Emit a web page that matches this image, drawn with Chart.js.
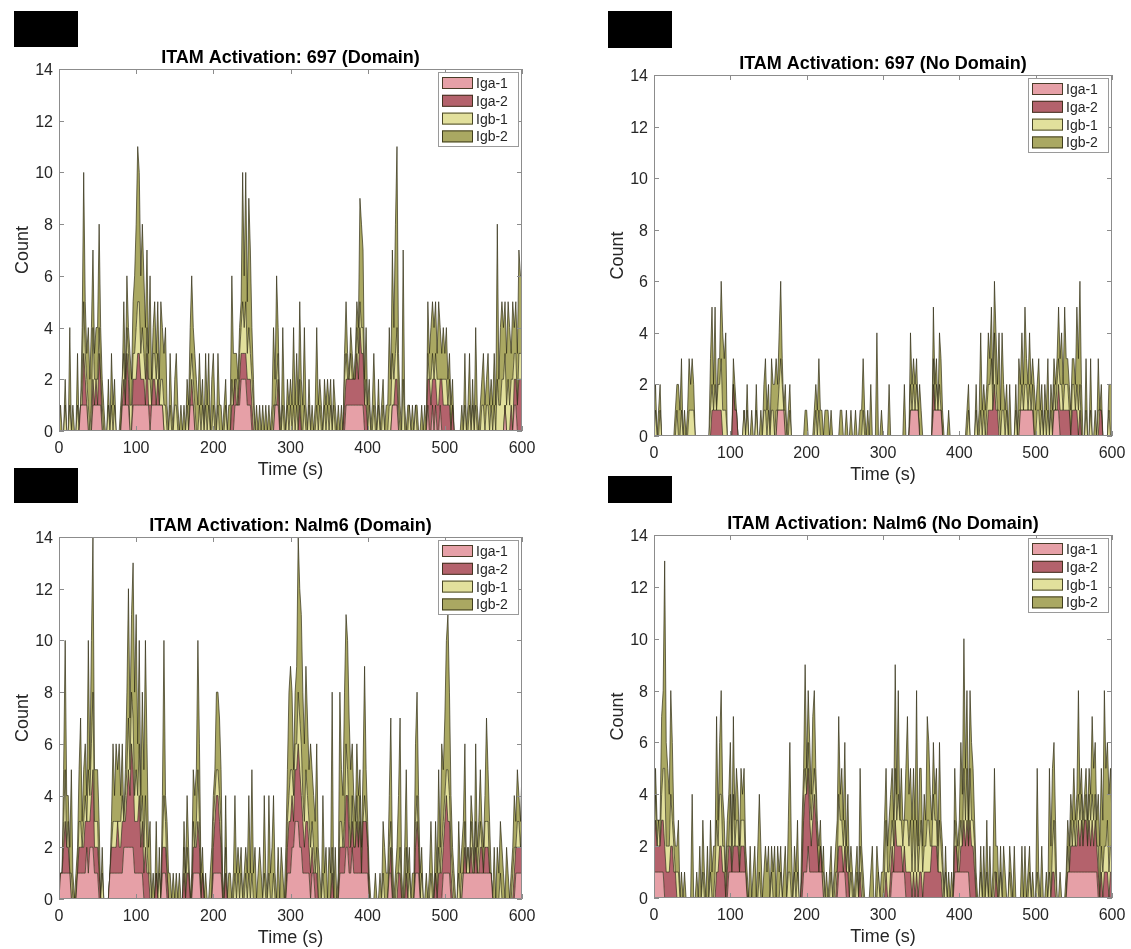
<!DOCTYPE html>
<html>
<head>
<meta charset="utf-8">
<script src="https://cdn.jsdelivr.net/npm/chart.js@4.4.1/dist/chart.umd.min.js"></script>
<style>
  body { margin: 0; background: #fff; width: 1131px; height: 949px; position: relative; overflow: hidden; }
  canvas { position: absolute; }
  .tag { position: absolute; background: #000; }
</style>
</head>
<body>
<div class="tag" style="left:14px;top:11px;width:64px;height:36px"></div>
<div class="tag" style="left:608px;top:11px;width:64px;height:37px"></div>
<div class="tag" style="left:14px;top:468px;width:64px;height:35px"></div>
<div class="tag" style="left:608px;top:476px;width:64px;height:27px"></div>

<canvas id="p1" width="570" height="450" style="left:0;top:30px"></canvas>
<canvas id="p2" width="561" height="460" style="left:570px;top:30px"></canvas>
<canvas id="p3" width="570" height="459" style="left:0;top:490px"></canvas>
<canvas id="p4" width="561" height="459" style="left:570px;top:490px"></canvas>

<script>
// counts are sampled every STEP seconds, 0..600 s
const STEP = 2;
const seriesNames = ['Iga-1', 'Iga-2', 'Igb-1', 'Igb-2'];
const yTicks = [0, 2, 4, 6, 8, 10, 12, 14];
const xTicks = [0, 100, 200, 300, 400, 500, 600];

// 697, with domain
const dom697Iga1 = [
  0,0,0,0,0, 0,0,0,0,0, 0,0,0,0,1, 1,1,1,1,0, 0,0,1,1,1,
  1,1,1,0,0, 0,0,0,0,0, 0,0,0,0,0, 0,1,1,1,1, 1,0,0,1,1,
  1,1,1,1,1, 1,1,1,1,0, 1,1,1,1,1, 1,1,1,0,0, 0,0,0,0,0,
  0,0,0,0,0, 0,0,0,0,0, 1,1,1,0,0, 0,0,0,0,0, 0,0,0,0,0,
  0,0,0,0,0, 0,0,0,0,0, 0,0,0,0,1, 1,1,1,2,2, 2,2,1,1,1,
  0,0,0,0,0, 0,0,0,0,0, 0,0,0,0,0, 1,1,1,0,0, 0,0,0,0,0,
  0,0,0,0,0, 0,0,0,0,0, 0,0,0,0,0, 0,0,0,0,0, 0,0,0,0,0,
  0,0,0,0,0, 0,0,0,0,0, 0,1,1,1,1, 1,1,1,1,1, 1,1,1,0,0,
  0,0,0,0,0, 0,0,0,0,0, 0,0,0,0,0, 0,1,1,1,1, 0,0,0,0,0,
  0,0,0,0,0, 0,0,0,0,0, 0,0,0,0,1, 0,0,1,0,1, 0,0,1,0,0,
  0,0,0,0,0, 0,0,0,0,0, 0,0,0,0,0, 0,0,0,0,0, 0,0,0,0,0,
  0,0,0,0,0, 0,0,0,0,0, 0,0,0,0,1, 0,0,0,0,0, 1,1,0,0,0,
  0
];
const dom697Iga2 = [
  0,0,0,0,0, 0,0,0,0,0, 0,0,0,0,0, 0,2,1,0,0, 0,0,1,0,1,
  0,2,1,0,0, 0,0,0,0,0, 0,0,0,0,0, 0,0,1,0,2, 1,0,0,1,1,
  1,2,2,1,1, 1,0,2,0,1, 0,1,1,0,1, 0,0,0,0,0, 0,0,0,0,0,
  0,0,0,0,0, 0,0,0,0,0, 0,1,0,0,0, 0,0,0,0,0, 0,0,0,0,0,
  0,0,0,0,0, 0,0,0,0,0, 0,0,1,1,1, 0,0,1,1,1, 1,1,1,1,1,
  1,0,0,0,0, 0,0,0,0,0, 0,0,0,0,0, 0,0,1,0,0, 0,0,0,0,0,
  0,0,0,0,0, 0,1,0,0,0, 0,0,0,0,0, 0,0,0,0,0, 0,0,0,0,0,
  0,0,0,0,0, 0,0,0,0,0, 1,1,1,1,1, 1,1,1,2,1, 3,2,2,1,1,
  0,0,0,0,0, 0,0,0,0,0, 0,0,0,0,0, 0,0,0,1,1, 0,0,0,0,0,
  0,0,0,0,0, 0,0,0,0,0, 0,0,0,0,1, 2,1,1,2,1, 1,1,1,2,1,
  1,1,1,1,0, 1,0,0,0,0, 0,0,0,0,0, 0,0,0,0,0, 0,0,0,0,0,
  0,0,0,0,0, 0,0,0,0,0, 0,0,0,0,0, 0,0,0,1,0, 1,1,1,2,2,
  2
];
const dom697Igb1 = [
  0,0,0,0,1, 0,0,1,0,0, 0,0,1,0,0, 1,2,1,1,1, 0,1,2,1,0,
  1,1,0,1,0, 0,0,1,0,1, 0,1,0,0,0, 0,1,1,0,1, 1,1,1,1,1,
  2,2,2,1,2, 1,1,1,1,1, 0,1,1,1,1, 0,1,1,1,1, 0,0,1,0,0,
  1,1,0,0,0, 0,0,0,1,0, 1,1,1,1,0, 0,1,0,1,0, 1,0,1,0,0,
  1,0,0,1,0, 0,0,0,1,0, 0,0,1,0,0, 1,0,1,1,2, 1,2,1,2,1,
  1,1,0,0,0, 0,0,0,0,0, 0,0,0,0,1, 0,1,1,0,0, 1,0,0,1,0,
  1,0,1,0,1, 0,1,0,0,1, 0,0,1,0,0, 0,0,1,0,1, 0,0,1,0,1,
  0,1,0,1,0, 0,0,0,0,0, 1,1,0,0,1, 0,0,0,1,1, 1,1,1,0,1,
  0,1,0,0,1, 0,0,1,0,0, 1,0,0,0,1, 1,2,1,1,2, 1,0,0,2,0,
  0,0,1,0,0, 0,1,0,0,0, 0,0,0,0,1, 0,1,1,0,1, 1,1,0,0,1,
  1,1,0,1,0, 0,0,0,0,0, 0,0,0,1,0, 0,1,0,1,0, 1,0,0,0,1,
  1,0,1,1,0, 1,0,1,0,2, 1,1,2,2,2, 1,2,1,1,2, 1,1,0,1,1,
  1
];
const dom697Igb2 = [
  0,1,0,0,1, 0,0,3,0,1, 0,0,2,0,0, 2,5,2,1,3, 2,3,3,1,2,
  2,4,2,1,1, 0,0,1,0,2, 1,1,0,0,0, 1,0,2,1,2, 1,2,1,2,3,
  4,6,5,3,4, 3,2,3,1,4, 1,1,2,1,2, 1,3,2,2,3, 1,0,2,1,0,
  1,2,1,0,1, 0,1,0,1,1, 2,3,2,2,2, 1,2,1,1,0, 2,1,2,0,2,
  2,1,0,2,1, 1,0,1,1,0, 1,1,4,2,1, 1,1,1,1,5, 2,5,2,5,4,
  2,1,0,1,0, 1,0,1,0,1, 0,1,0,1,3, 1,4,1,1,0, 3,1,0,1,1,
  1,1,3,1,2, 1,3,2,1,3, 1,0,1,0,1, 0,1,3,1,1, 1,0,1,1,1,
  1,1,0,1,1, 0,1,0,1,0, 1,2,1,0,1, 1,0,1,1,1, 4,4,3,1,2,
  1,1,0,1,2, 1,0,1,0,1, 1,0,1,1,3, 1,4,2,5,7, 2,1,0,5,1,
  0,1,0,0,1, 0,0,1,0,0, 1,0,1,0,2, 1,2,2,2,2, 1,3,2,1,2,
  1,2,1,1,1, 1,0,0,0,0, 0,1,0,2,0, 1,2,0,1,0, 3,1,0,1,1,
  2,1,1,2,1, 1,1,2,1,6, 1,3,3,2,2, 2,3,3,1,3, 1,2,2,4,3,
  3
];

// 697, no domain
const noDom697Iga1 = [
  0,0,0,0,0, 0,0,0,0,0, 0,0,0,0,0, 0,0,0,0,0, 0,0,0,0,0,
  0,0,0,0,0, 0,0,0,0,0, 0,0,0,0,0, 0,0,0,0,0, 0,0,0,0,0,
  0,0,0,0,0, 0,0,0,0,0, 0,0,0,0,0, 0,0,0,0,0, 0,0,0,0,0,
  0,0,0,0,0, 0,1,1,1,1, 1,0,0,0,0, 0,0,0,0,0, 0,0,0,0,0,
  0,0,0,0,0, 0,0,0,0,0, 0,0,0,0,0, 0,0,0,0,0, 0,0,0,0,0,
  0,0,0,0,0, 0,0,0,0,0, 0,0,0,0,0, 0,0,0,0,0, 0,0,0,0,0,
  0,0,0,0,0, 0,0,0,0,0, 0,0,0,0,0, 0,0,0,1,1, 1,1,1,1,0,
  0,0,0,0,0, 0,0,0,1,1, 1,1,1,1,0, 0,0,0,0,0, 0,0,0,0,0,
  0,0,0,0,0, 0,0,0,0,0, 0,0,0,0,0, 0,0,0,0,0, 0,0,0,0,0,
  0,0,0,0,0, 0,0,0,0,0, 0,0,0,0,0, 1,1,1,1,1, 1,1,1,1,0,
  0,0,0,0,0, 0,0,0,0,0, 0,0,1,1,1, 1,0,0,0,0, 0,0,0,0,0,
  0,0,0,0,0, 0,0,0,0,0, 0,0,0,0,0, 0,0,0,0,0, 0,0,0,0,0,
  0
];
const noDom697Iga2 = [
  0,0,0,0,0, 0,0,0,0,0, 0,0,0,0,0, 0,0,0,0,0, 0,0,0,0,0,
  0,0,0,0,0, 0,0,0,0,0, 0,0,0,1,1, 1,1,1,1,1, 0,0,0,0,0,
  0,0,2,1,1, 0,0,0,0,0, 0,0,0,0,0, 0,0,0,0,0, 0,0,0,0,0,
  0,0,0,0,0, 0,0,0,0,0, 0,0,0,0,0, 0,0,0,0,0, 0,0,0,0,0,
  0,0,0,0,0, 0,0,0,0,0, 0,0,0,0,0, 0,0,0,0,0, 0,0,0,0,0,
  0,0,0,0,0, 0,0,0,0,0, 0,0,0,0,0, 0,0,0,0,0, 0,0,0,0,0,
  0,0,0,0,0, 0,0,0,0,0, 0,0,0,0,0, 0,0,0,0,0, 0,0,0,0,0,
  0,0,0,0,0, 0,0,0,1,0, 0,0,0,0,0, 0,0,0,0,0, 0,0,0,0,0,
  0,0,0,0,0, 0,0,0,0,0, 0,0,0,0,0, 0,0,0,0,1, 1,1,1,2,1,
  1,0,0,0,0, 0,0,0,0,0, 0,0,0,0,0, 0,0,0,0,0, 0,0,0,0,0,
  0,0,0,0,0, 0,0,0,0,0, 0,0,0,0,0, 1,1,1,1,1, 1,1,1,0,1,
  1,1,1,0,1, 0,0,0,0,0, 0,0,0,0,0, 0,0,1,1,0, 0,0,0,0,0,
  0
];
const noDom697Igb1 = [
  0,1,0,0,1, 0,0,0,0,0, 0,0,0,0,0, 1,0,0,1,0, 0,0,0,1,1,
  1,1,0,0,0, 0,0,0,0,0, 0,0,1,1,0, 1,0,1,1,2, 1,1,1,0,0,
  0,0,0,0,0, 0,0,0,0,1, 0,1,0,0,0, 0,0,1,0,0, 0,0,1,1,0,
  1,0,1,1,0, 1,0,1,2,1, 0,1,0,0,1, 0,0,0,0,0, 0,0,0,0,0,
  0,0,0,0,0, 0,1,0,1,0, 0,0,0,0,0, 0,0,0,0,0, 0,0,0,0,0,
  0,0,0,0,0, 0,0,0,0,0, 0,0,1,0,0, 0,0,0,0,0, 0,0,0,0,0,
  0,0,0,0,0, 0,0,0,0,0, 0,0,0,0,0, 0,0,0,1,0, 1,0,1,0,0,
  0,0,0,0,0, 0,0,0,1,0, 1,0,1,0,0, 0,0,0,0,0, 0,0,0,0,0,
  0,0,0,0,0, 0,1,0,0,0, 0,1,0,0,1, 0,1,0,1,1, 1,2,0,2,1,
  0,1,0,1,1, 0,1,0,0,0, 0,0,1,0,1, 0,1,0,1,1, 0,1,0,1,0,
  0,1,1,0,1, 0,1,0,1,0, 1,0,1,0,1, 1,1,1,0,1, 1,1,0,0,1,
  1,0,1,1,1, 0,0,0,1,0, 0,1,0,0,0, 0,1,0,0,0, 0,0,0,1,0,
  0
];
const noDom697Igb2 = [
  1,1,0,1,1, 0,0,0,0,0, 0,0,0,0,1, 1,2,1,2,0, 1,0,1,2,1,
  2,1,0,0,0, 0,0,0,0,0, 0,0,2,3,1, 3,0,1,1,3, 3,2,3,0,0,
  0,0,1,1,0, 0,0,0,0,0, 0,1,0,0,1, 0,0,1,0,0, 1,0,1,2,1,
  1,0,2,1,2, 2,1,2,3,1, 0,1,0,1,1, 0,0,0,0,0, 0,0,0,0,1,
  1,0,0,0,0, 1,1,1,2,1, 1,0,1,1,1, 0,1,0,0,0, 0,0,1,1,0,
  0,1,0,0,1, 0,0,1,0,0, 1,1,2,1,0, 1,0,2,0,0, 0,4,0,0,1,
  0,0,0,0,2, 0,0,0,0,0, 0,0,0,0,2, 0,0,0,2,1, 1,1,1,0,2,
  1,0,0,0,0, 0,0,0,2,1, 1,0,2,2,1, 0,0,0,1,0, 0,0,0,0,0,
  0,0,0,0,0, 1,1,0,0,0, 0,1,0,1,3, 1,1,1,1,2, 1,2,1,2,2,
  1,3,1,3,1, 1,1,0,2,0, 0,0,1,0,2, 1,2,1,3,1, 1,2,1,1,2,
  1,1,2,1,1, 0,1,1,2,0, 1,1,1,1,1, 2,1,2,1,3, 1,1,1,1,1,
  1,1,3,2,4, 2,0,0,2,0, 0,2,0,0,1, 0,2,0,1,0, 0,0,0,1,2,
  2
];

// Nalm6, with domain
const domNalmIga1 = [
  0,1,1,1,1, 1,1,1,0,0, 0,0,1,1,1, 1,1,1,2,1, 2,2,2,1,1,
  1,0,0,0,0, 0,0,0,1,1, 1,1,1,1,1, 1,1,2,2,2, 2,2,2,2,1,
  1,1,1,1,1, 0,0,0,0,0, 0,0,0,0,0, 0,0,1,1,1, 0,0,0,0,0,
  0,0,0,0,0, 0,0,0,0,0, 0,0,1,1,1, 1,1,0,0,0, 0,0,0,0,0,
  1,1,1,1,1, 1,0,0,0,0, 0,0,0,0,0, 0,0,0,0,0, 0,0,0,0,0,
  0,0,0,0,0, 0,0,0,0,0, 0,0,0,0,0, 0,0,0,0,0, 0,0,0,1,1,
  1,2,2,3,3, 3,2,2,1,1, 1,1,1,0,1, 1,0,0,0,0, 0,0,0,0,0,
  0,0,0,0,0, 0,0,1,1,1, 1,2,2,1,1, 2,1,1,1,1, 1,1,1,1,1,
  1,0,0,0,0, 0,0,0,0,0, 0,0,0,0,1, 1,0,0,0,0, 0,0,0,0,0,
  0,0,0,0,0, 0,1,1,1,0, 0,0,0,0,0, 0,0,0,0,0, 0,0,0,0,1,
  1,1,1,1,0, 0,0,0,0,0, 0,0,1,1,1, 1,1,1,1,1, 1,1,1,1,1,
  1,1,1,1,1, 1,0,0,0,0, 0,0,0,0,0, 0,0,0,0,0, 0,1,1,1,1,
  1
];
const domNalmIga2 = [
  0,0,0,1,2, 1,1,0,0,0, 0,0,0,1,1, 1,1,2,1,2, 1,2,3,1,1,
  1,1,0,0,0, 0,0,0,0,1, 1,1,1,2,1, 1,2,1,1,2, 3,2,4,3,2,
  2,2,3,1,2, 1,2,1,1,0, 0,0,0,1,0, 0,0,1,1,1, 1,0,0,0,0,
  0,0,0,0,0, 0,1,0,1,1, 0,0,1,1,1, 2,1,0,1,0, 0,0,0,0,0,
  1,2,3,3,2, 1,0,0,1,0, 0,0,0,0,0, 0,0,0,0,0, 0,0,0,0,0,
  0,0,0,0,0, 0,0,0,0,0, 0,0,0,0,0, 0,0,0,0,0, 0,0,0,1,2,
  2,2,1,2,2, 3,3,2,2,1, 2,2,1,1,1, 0,1,1,0,0, 0,0,0,0,0,
  0,0,1,0,0, 0,0,1,1,1, 1,2,2,1,1, 1,1,1,2,1, 2,0,2,2,2,
  1,0,0,0,0, 0,0,0,0,0, 0,0,0,0,0, 1,0,0,0,0, 1,1,0,0,0,
  1,0,0,0,0, 0,1,2,1,0, 0,0,0,0,0, 0,0,0,0,1, 0,1,1,1,1,
  2,3,2,2,1, 0,0,0,0,0, 0,0,0,1,0, 0,0,1,0,0, 1,0,0,1,1,
  0,1,1,1,0, 0,0,0,0,0, 0,0,0,0,0, 0,0,0,0,0, 1,1,1,1,1,
  1
];
const domNalmIgb1 = [
  0,0,0,1,2, 0,1,0,1,0, 0,0,0,1,1, 0,1,1,0,2, 1,2,3,1,1,
  1,0,0,1,0, 0,0,0,0,0, 1,1,1,0,1, 1,1,0,1,1, 2,1,2,2,1,
  2,1,2,1,1, 1,2,1,0,1, 0,0,0,0,0, 1,0,0,2,1, 0,0,0,0,0,
  0,0,0,0,0, 0,1,0,1,0, 0,0,1,0,1, 2,1,0,0,0, 0,0,0,0,0,
  1,1,1,1,1, 1,0,0,1,0, 0,0,0,0,1, 0,1,0,1,0, 0,1,0,1,0,
  1,0,0,0,0, 0,0,0,1,0, 0,1,0,0,1, 0,0,0,0,0, 0,0,0,1,1,
  2,1,1,1,1, 2,2,2,1,1, 2,1,1,1,1, 1,0,1,0,0, 0,1,0,0,0,
  0,0,1,0,0, 0,0,1,1,0, 1,2,1,1,0, 1,0,0,1,0, 1,0,0,1,0,
  0,0,0,0,0, 0,0,0,0,0, 1,0,0,0,1, 1,0,0,0,1, 0,1,0,0,0,
  1,0,1,0,0, 0,1,1,0,0, 1,0,0,0,0, 0,1,0,0,0, 0,1,0,1,1,
  1,1,2,1,1, 1,0,0,0,1, 0,1,0,1,0, 1,0,1,1,0, 1,0,1,1,0,
  0,1,1,1,0, 0,0,0,0,0, 0,1,0,0,0, 0,0,0,0,1, 1,0,1,1,0,
  1
];
const domNalmIgb2 = [
  0,0,0,2,5, 2,1,1,4,1, 0,1,1,2,4, 1,2,2,1,5, 1,4,6,2,2,
  2,2,0,1,0, 0,0,0,0,1, 3,1,3,2,3, 1,2,0,1,3, 5,2,3,6,4,
  6,2,4,1,4, 3,6,4,1,2, 0,1,0,2,0, 1,0,2,6,1, 2,1,1,0,1,
  0,1,0,1,0, 0,1,1,2,1, 0,1,2,2,2, 5,3,1,1,0, 1,0,0,1,2,
  1,1,3,3,3, 2,1,0,2,0, 1,1,0,1,3, 1,1,1,1,0, 1,1,1,3,1,
  4,1,2,0,1, 2,1,0,3,1, 0,3,1,2,3, 1,0,2,0,2, 1,0,2,2,4,
  4,3,1,2,3, 6,5,5,4,3, 4,3,2,4,2, 2,2,4,2,1, 0,3,1,2,0,
  2,1,6,0,2, 0,1,5,2,2, 5,5,5,4,3, 2,2,1,2,2, 1,1,2,5,2,
  1,1,0,0,0, 1,0,0,1,0, 2,2,1,1,2, 4,2,0,1,1, 3,5,1,0,2,
  3,1,1,0,1, 1,3,4,2,1, 1,0,0,1,0, 1,2,1,0,2, 1,3,1,4,2,
  3,5,6,4,2, 1,1,0,0,2, 1,1,2,3,0, 0,0,1,1,0, 3,1,1,2,1,
  1,1,4,2,2, 0,0,2,0,2, 1,2,2,1,0, 2,1,0,1,1, 2,1,2,1,1,
  2
];

// Nalm6, no domain
const noDomNalmIga1 = [
  1,1,1,1,1, 1,1,0,0,0, 0,0,0,0,0, 0,0,0,0,0, 0,0,0,0,0,
  0,0,0,0,0, 0,0,0,0,0, 0,0,0,0,0, 0,0,0,0,0, 0,0,0,0,1,
  1,1,1,1,1, 1,1,1,1,1, 1,0,0,0,0, 0,0,0,0,0, 0,0,0,0,0,
  0,0,0,0,0, 0,0,0,0,0, 0,0,0,0,0, 0,0,0,0,0, 0,0,0,1,1,
  1,2,1,1,1, 1,1,1,1,1, 1,0,0,0,0, 0,0,0,0,0, 0,1,1,1,1,
  1,0,0,0,0, 0,0,0,0,0, 0,0,0,0,0, 0,0,0,0,0, 0,0,0,0,0,
  0,0,0,0,0, 0,1,1,1,1, 1,1,1,1,1, 0,0,0,0,0, 0,0,0,0,0,
  0,0,0,0,0, 0,0,0,0,0, 0,0,0,0,0, 0,0,0,0,0, 0,0,1,1,1,
  1,1,1,1,1, 1,1,0,0,0, 0,0,0,0,0, 0,0,0,0,0, 0,0,0,0,0,
  0,0,0,0,0, 0,0,0,0,0, 0,0,0,0,0, 0,0,0,0,0, 0,0,0,0,0,
  0,0,0,0,0, 0,0,0,0,0, 0,0,0,0,0, 0,0,0,0,0, 0,1,1,1,1,
  1,1,1,1,1, 1,1,1,1,1, 1,1,1,1,1, 1,0,0,0,0, 0,0,0,0,0,
  0
];
const noDomNalmIga2 = [
  1,2,1,1,1, 2,2,2,1,1, 1,2,2,1,1, 0,0,0,0,0, 0,0,0,0,0,
  0,0,0,0,0, 0,0,0,0,0, 0,0,0,0,0, 0,1,1,2,2, 1,1,0,1,1,
  1,0,1,1,1, 1,0,1,1,1, 0,0,0,0,0, 0,0,0,0,0, 0,0,0,0,0,
  0,0,0,0,0, 0,0,0,0,0, 0,0,0,0,0, 0,0,0,0,0, 0,0,1,2,3,
  3,3,2,1,2, 3,2,1,0,1, 0,0,0,0,0, 0,0,0,0,0, 1,1,1,1,0,
  1,1,1,0,0, 0,0,0,0,0, 1,0,0,0,0, 0,0,0,0,0, 0,0,0,0,0,
  0,0,1,0,0, 1,1,0,2,1, 1,1,1,0,1, 1,1,1,1,0, 1,0,1,0,1,
  1,0,1,1,1, 1,1,2,2,2, 2,1,1,1,0, 0,0,0,0,0, 0,0,1,1,0,
  0,1,1,2,1, 2,1,3,2,2, 1,0,0,0,0, 0,0,0,0,0, 0,0,0,0,1,
  0,0,0,0,0, 0,0,0,0,0, 0,0,0,0,0, 0,0,0,0,0, 0,0,0,0,0,
  0,0,0,0,0, 0,0,0,0,0, 0,1,1,0,0, 0,0,0,0,0, 0,0,0,1,1,
  1,1,1,2,1, 2,1,2,2,1, 2,1,2,1,2, 1,1,0,1,0, 1,1,1,0,1,
  1
];
const noDomNalmIgb1 = [
  0,1,0,1,0, 1,2,3,1,1, 1,2,1,1,0, 1,1,0,0,0, 0,0,0,0,0,
  0,0,0,0,0, 0,0,1,0,0, 0,0,1,0,0, 1,2,1,2,2, 1,1,0,1,0,
  2,0,2,0,1, 1,0,1,1,1, 0,0,0,0,0, 0,0,0,0,1, 0,0,0,0,0,
  0,0,1,0,0, 0,0,0,1,0, 0,0,0,1,1, 0,0,1,0,1, 0,0,0,1,1,
  0,1,1,1,1, 1,1,0,0,0, 0,1,0,0,0, 0,1,0,0,1, 0,2,1,1,1,
  1,0,1,0,1, 0,0,0,1,0, 1,1,0,0,0, 0,0,0,0,0, 0,0,1,0,0,
  0,1,2,1,1, 1,1,1,2,1, 2,1,1,1,1, 2,2,1,2,1, 2,1,2,1,1,
  2,1,1,1,2, 2,1,0,2,1, 1,0,2,1,1, 0,1,0,0,0, 0,0,1,0,0,
  1,1,0,2,1, 2,0,2,1,1, 1,0,0,0,1, 0,0,0,1,0, 0,0,0,1,0,
  0,0,1,0,0, 0,0,0,1,0, 0,0,0,0,0, 0,0,0,0,0, 0,1,0,0,0,
  0,1,0,0,0, 0,0,0,0,1, 0,1,2,1,0, 0,0,0,0,0, 0,1,0,1,0,
  1,0,1,1,1, 1,0,0,1,0, 1,1,1,1,1, 0,1,0,1,1, 1,1,2,1,1,
  1
];
const noDomNalmIgb2 = [
  0,1,1,0,1, 3,3,8,4,3, 2,4,3,1,1, 1,2,0,1,0, 1,0,0,0,0,
  4,0,0,1,0, 2,0,2,1,0, 2,0,2,1,2, 1,4,1,2,4, 2,1,1,1,2,
  2,1,3,1,2, 1,1,2,1,2, 1,1,0,2,0, 1,2,0,2,3, 2,0,1,2,1,
  2,0,1,1,2, 0,2,1,1,0, 1,2,0,2,5, 2,0,1,1,2, 0,0,2,1,4,
  1,2,2,1,3, 3,1,1,1,1, 0,1,0,1,0, 1,1,0,1,1, 2,3,1,2,1,
  3,1,2,1,1, 1,0,1,1,0, 3,1,1,0,0, 0,0,1,2,0, 0,2,0,0,1,
  1,2,2,1,2, 2,2,1,4,1, 4,0,2,1,0, 2,4,2,2,2, 2,2,5,1,3,
  2,1,2,1,4, 3,2,1,2,1, 2,1,3,1,1, 0,1,0,1,0, 1,0,2,1,1,
  1,3,2,5,2, 3,1,3,3,2, 1,1,0,0,1, 0,2,0,2,0, 2,0,1,4,1,
  2,0,1,0,2, 1,0,0,1,1, 0,2,0,0,0, 0,2,0,2,0, 1,1,0,1,0,
  0,4,1,0,2, 0,0,1,0,4, 2,3,3,2,0, 0,1,0,0,0, 1,1,1,1,1,
  2,1,1,4,1, 1,1,1,1,1, 1,1,3,2,2, 1,2,2,3,2, 6,3,3,3,3,
  1
];

const fillColors = ['rgb(230,160,167)', 'rgb(180,98,108)', 'rgb(226,224,156)', 'rgb(170,168,98)'];
const edgeColor = 'rgba(45,42,18,0.85)';
const FONT = '"Liberation Sans", Arial, Helvetica, sans-serif';

// box, inward ticks, labels, title and legend in the MATLAB style
const matlabAxes = {
  id: 'matlabAxes',
  afterDraw(chart, args, opts) {
    const ctx = chart.ctx;
    const a = chart.chartArea;
    const xs = chart.scales.x, ys = chart.scales.y;
    const midX = (a.left + a.right) / 2;
    ctx.save();

    ctx.strokeStyle = '#8c8c8c';
    ctx.lineWidth = 1;
    ctx.beginPath();
    ctx.rect(a.left + 0.5, a.top + 0.5, a.right - a.left - 1, a.bottom - a.top - 1);
    yTicks.forEach(v => {
      const py = Math.round(ys.getPixelForValue(v)) + 0.5;
      ctx.moveTo(a.left, py); ctx.lineTo(a.left + 5, py);
      ctx.moveTo(a.right, py); ctx.lineTo(a.right - 5, py);
    });
    xTicks.forEach(v => {
      const px = Math.round(xs.getPixelForValue(v)) + 0.5;
      ctx.moveTo(px, a.bottom); ctx.lineTo(px, a.bottom - 5);
      ctx.moveTo(px, a.top); ctx.lineTo(px, a.top + 5);
    });
    ctx.stroke();

    ctx.fillStyle = '#262626';
    ctx.font = '16px ' + FONT;
    ctx.textBaseline = 'alphabetic';
    ctx.textAlign = 'right';
    yTicks.forEach(v => ctx.fillText(String(v), a.left - 6, ys.getPixelForValue(v) + 6));
    ctx.textAlign = 'center';
    xTicks.forEach(v => ctx.fillText(String(v), xs.getPixelForValue(v), a.bottom + 22));

    ctx.font = '18px ' + FONT;
    ctx.fillText('Time (s)', midX, a.bottom + 44);
    ctx.save();
    ctx.translate(a.left - 31, (a.top + a.bottom) / 2);
    ctx.rotate(-Math.PI / 2);
    ctx.fillText('Count', 0, 0);
    ctx.restore();

    ctx.fillStyle = '#000';
    ctx.font = 'bold 18px ' + FONT;
    ctx.fillText(opts.title, midX, a.top - 6);

    // legend
    const lx = a.right - 84, ly = a.top + 3;
    ctx.fillStyle = '#fff';
    ctx.fillRect(lx, ly, 80, 74);
    ctx.strokeStyle = '#9a9a9a';
    ctx.strokeRect(lx + 0.5, ly + 0.5, 80, 74);
    ctx.font = '14px ' + FONT;
    ctx.textAlign = 'left';
    seriesNames.forEach((name, k) => {
      const cy = ly + 11 + k * 17.8;
      ctx.fillStyle = fillColors[k];
      ctx.fillRect(lx + 4, cy - 6, 31, 12);
      ctx.strokeStyle = edgeColor;
      ctx.strokeRect(lx + 4.5, cy - 5.5, 30, 11);
      ctx.fillStyle = '#262626';
      ctx.fillText(name, lx + 38, cy + 5);
    });
    ctx.restore();
  }
};

function makePanel(id, title, series, pad, yWidth, xHeight) {
  const datasets = series.map((vals, k) => ({
    label: seriesNames[k],
    data: vals.map((v, i) => ({ x: i * STEP, y: v })),
    backgroundColor: fillColors[k],
    borderColor: edgeColor,
    borderWidth: 0.8,
    pointRadius: 0,
    tension: 0,
    fill: k === 0 ? 'origin' : '-1'
  }));
  new Chart(document.getElementById(id), {
    type: 'line',
    data: { datasets },
    plugins: [matlabAxes],
    options: {
      responsive: false,
      animation: false,
      devicePixelRatio: 1,
      events: [],
      layout: { padding: pad },
      plugins: {
        legend: { display: false },
        tooltip: { enabled: false },
        matlabAxes: { title }
      },
      scales: {
        x: {
          type: 'linear', min: 0, max: 600,
          ticks: { display: false },
          grid: { display: false, drawTicks: false },
          border: { display: false },
          afterFit: s => { s.height = xHeight; }
        },
        y: {
          stacked: true, min: 0, max: 14,
          ticks: { display: false, stepSize: 2 },
          grid: { display: false, drawTicks: false },
          border: { display: false },
          afterFit: s => { s.width = yWidth; }
        }
      }
    }
  });
}

makePanel('p1', 'ITAM Activation: 697 (Domain)',
  [dom697Iga1, dom697Iga2, dom697Igb1, dom697Igb2],
  { left: 0, top: 39, right: 48, bottom: 0 }, 59, 49);
makePanel('p2', 'ITAM Activation: 697 (No Domain)',
  [noDom697Iga1, noDom697Iga2, noDom697Igb1, noDom697Igb2],
  { left: 0, top: 45, right: 19, bottom: 0 }, 84, 54);
makePanel('p3', 'ITAM Activation: Nalm6 (Domain)',
  [domNalmIga1, domNalmIga2, domNalmIgb1, domNalmIgb2],
  { left: 0, top: 47, right: 48, bottom: 0 }, 59, 50);
makePanel('p4', 'ITAM Activation: Nalm6 (No Domain)',
  [noDomNalmIga1, noDomNalmIga2, noDomNalmIgb1, noDomNalmIgb2],
  { left: 0, top: 45, right: 19, bottom: 0 }, 84, 51);
</script>
</body>
</html>
